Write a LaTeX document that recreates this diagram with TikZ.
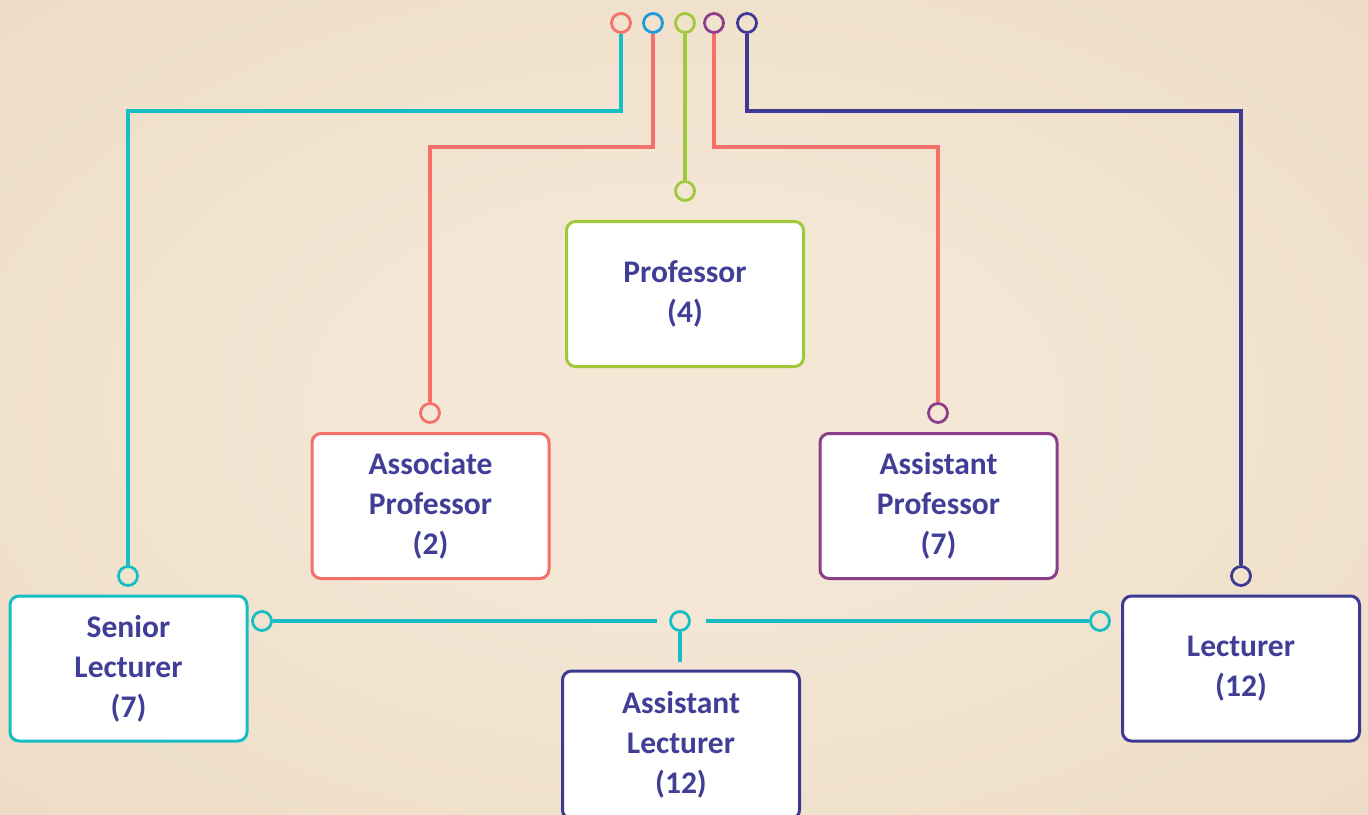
\documentclass[tikz,border=0pt]{standalone}
\usepackage{fontspec}
\setmainfont{Carlito}
\usetikzlibrary{calc}
\definecolor{bgin}{RGB}{244,231,214}
\definecolor{bgmid}{RGB}{234,215,188}
\definecolor{bgout}{RGB}{230,208,176}
\definecolor{txt}{RGB}{64,62,150}
\definecolor{csalmon}{RGB}{244,112,104}
\definecolor{cblue}{RGB}{28,155,215}
\definecolor{cgreen}{RGB}{160,201,58}
\definecolor{cpurple}{RGB}{140,62,138}
\definecolor{cnavy}{RGB}{62,58,148}
\definecolor{cteal}{RGB}{22,190,195}
\pgfdeclareradialshading{bgshade}{\pgfpoint{0bp}{0bp}}{color(0bp)=(bgin); color(10bp)=(bgin); color(50bp)=(bgmid); color(72bp)=(bgout)}
\tikzset{
  rolebox/.style={draw, fill=white, line width=3pt, rounded corners=9pt,
    minimum width=237pt, minimum height=145pt, align=center, text=txt,
    font=\fontsize{31.5}{40}\selectfont\bfseries, inner sep=0pt},
  dot/.style={circle, draw, line width=2.8pt, minimum size=19pt, inner sep=0pt},
  wire/.style={line width=3.2pt}
}
\begin{document}
\begin{tikzpicture}[x=1pt,y=-1pt]
\useasboundingbox (0,0) rectangle (1368,814);
\shade[shading=bgshade] (0,0) rectangle (1368,814);
% boxes
\node[rolebox, draw=cgreen] (prof) at (685,294) {Professor\\(4)};
\node[rolebox, draw=csalmon] (assoc) at (430.5,506) {Associate\\Professor\\(2)};
\node[rolebox, draw=cpurple] (asst) at (938.5,506) {Assistant\\Professor\\(7)};
\node[rolebox, draw=cteal] (senior) at (128.5,668.5) {Senior\\Lecturer\\(7)};
\node[rolebox, draw=cnavy] (lect) at (1241,668.5) {Lecturer\\(12)};
\node[rolebox, draw=cnavy, minimum height=148pt] (alect) at (681,745) {Assistant\\Lecturer\\(12)};
% top dots
\node[dot, draw=csalmon] (t1) at (621,23) {};
\node[dot, draw=cblue] (t2) at (653,23) {};
\node[dot, draw=cgreen] (t3) at (685,23) {};
\node[dot, draw=cpurple] (t4) at (714,23) {};
\node[dot, draw=cnavy] (t5) at (747,23) {};
% lower dots
\node[dot, draw=cteal] (dsen) at (128,576) {};
\node[dot, draw=csalmon] (dassoc) at (430,413) {};
\node[dot, draw=cgreen] (dprof) at (685,191) {};
\node[dot, draw=cpurple] (dasst) at (938,413) {};
\node[dot, draw=cnavy] (dlect) at (1241,576) {};
\node[dot, draw=cteal] (hl) at (262,621) {};
\node[dot, draw=cteal] (hm) at (680,621) {};
\node[dot, draw=cteal] (hr) at (1100,621) {};
\coordinate (hml) at (657,621);
\coordinate (hmr) at (706,621);
\coordinate (hmd) at (680,662);
% connectors
\draw[wire, cteal] (t1.south) |- (128,111) -- (dsen.north);
\draw[wire, csalmon] (t2.south) |- (430,147) -- (dassoc.north);
\draw[wire, cgreen] (t3.south) -- (dprof.north);
\draw[wire, csalmon] (t4.south) |- (938,147) -- (dasst.north);
\draw[wire, cnavy] (t5.south) |- (1241,111) -- (dlect.north);
\draw[wire, cteal] (hl.east) -- (hml);
\draw[wire, cteal] (hmr) -- (hr.west);
\draw[wire, cteal] (hm.south) -- (hmd);
\end{tikzpicture}
\end{document}
